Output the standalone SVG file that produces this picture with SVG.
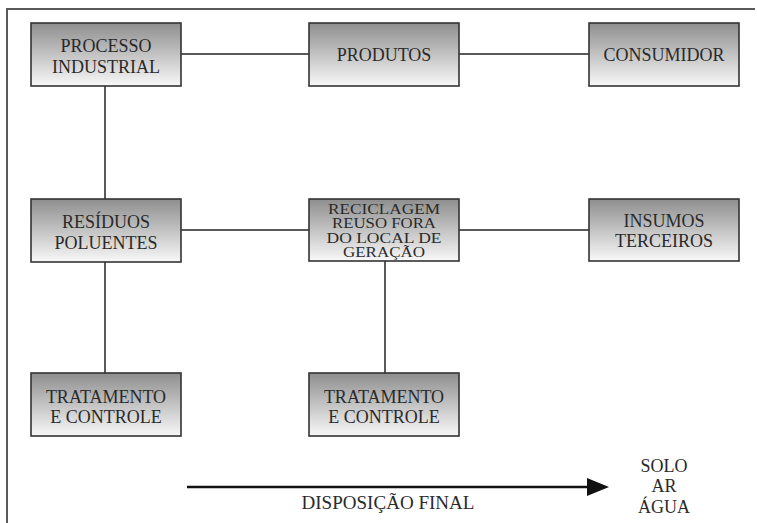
<svg xmlns="http://www.w3.org/2000/svg" width="757" height="523" viewBox="0 0 757 523">
<defs>
<linearGradient id="g" x1="0" y1="0" x2="0" y2="1">
<stop offset="0" stop-color="#8e8e8e"/>
<stop offset="1" stop-color="#f8f8f8"/>
</linearGradient>
</defs>
<style>
.box{fill:url(#g);stroke:#333;stroke-width:1.6}
.t{font-family:'Liberation Serif','DejaVu Serif',serif;font-size:18px;fill:#2a2a2a;text-anchor:middle}
.s{font-size:14px}
.c{stroke:#222;stroke-width:1.5;fill:none}
</style>
<rect width="757" height="523" fill="#fff"/>
<path d="M7,523 V9 H755" fill="none" stroke="#5a5a5a" stroke-width="2"/>
<g id="connectors">
<line class="c" x1="181" y1="54" x2="309" y2="54"/>
<line class="c" x1="459" y1="54" x2="589" y2="54"/>
<line class="c" x1="105" y1="86" x2="105" y2="199"/>
<line class="c" x1="181" y1="230" x2="309" y2="230"/>
<line class="c" x1="459" y1="230" x2="589" y2="230"/>
<line class="c" x1="105" y1="262" x2="105" y2="373"/>
<line class="c" x1="385" y1="261" x2="385" y2="373"/>
<line x1="187" y1="487" x2="590" y2="487" stroke="#111" stroke-width="2.6"/>
<polygon points="587,478 609,487 587,496" fill="#111"/>
</g>
<g font-family="Liberation Serif, DejaVu Serif, serif">
<g id="processo">
<rect class="box" x="31" y="23" width="150" height="63"/>
<text class="t" x="106" y="52">PROCESSO</text>
<text class="t" x="106" y="73">INDUSTRIAL</text>
</g>
<g id="produtos">
<rect class="box" x="309" y="23" width="150" height="63"/>
<text class="t" x="384" y="61">PRODUTOS</text>
</g>
<g id="consumidor">
<rect class="box" x="589" y="23" width="150" height="63"/>
<text class="t" x="664" y="61">CONSUMIDOR</text>
</g>
<g id="residuos">
<rect class="box" x="31" y="199" width="150" height="63"/>
<text class="t" x="106" y="228">RESÍDUOS</text>
<text class="t" x="106" y="249">POLUENTES</text>
</g>
<g id="reciclagem">
<rect class="box" x="309" y="199" width="150" height="62"/>
<text class="t s" x="384" y="213.5" textLength="112" lengthAdjust="spacingAndGlyphs">RECICLAGEM</text>
<text class="t s" x="384" y="228" textLength="104" lengthAdjust="spacingAndGlyphs">REUSO FORA</text>
<text class="t s" x="384" y="242.5" textLength="115" lengthAdjust="spacingAndGlyphs">DO LOCAL DE</text>
<text class="t s" x="384" y="257" textLength="82" lengthAdjust="spacingAndGlyphs">GERAÇÃO</text>
</g>
<g id="insumos">
<rect class="box" x="589" y="199" width="150" height="62"/>
<text class="t" x="664" y="227">INSUMOS</text>
<text class="t" x="664" y="247">TERCEIROS</text>
</g>
<g id="tratamento1">
<rect class="box" x="31" y="373" width="150" height="63"/>
<text class="t" x="106" y="403">TRATAMENTO</text>
<text class="t" x="106" y="423">E CONTROLE</text>
</g>
<g id="tratamento2">
<rect class="box" x="309" y="373" width="150" height="63"/>
<text class="t" x="384" y="403">TRATAMENTO</text>
<text class="t" x="384" y="423">E CONTROLE</text>
</g>
<g id="labels">
<text class="t" x="388" y="509" textLength="173" lengthAdjust="spacingAndGlyphs">DISPOSIÇÃO FINAL</text>
<text class="t" x="664" y="472">SOLO</text>
<text class="t" x="664" y="492">AR</text>
<text class="t" x="664" y="513">ÁGUA</text>
</g>
</g>
</svg>
